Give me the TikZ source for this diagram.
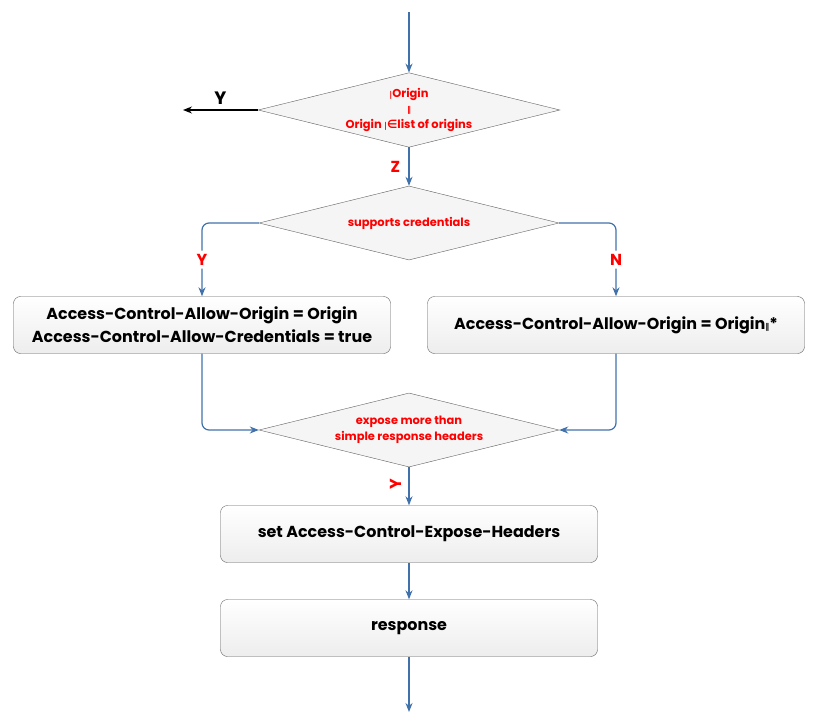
\documentclass[tikz,border=0pt]{standalone}
\usepackage{fontspec}
\setmainfont{Poppins}
\newfontfamily\symfont{DejaVu Sans}
\usetikzlibrary{shapes.geometric,arrows.meta}
\definecolor{flowblue}{RGB}{65,113,170}
\definecolor{labred}{RGB}{255,0,0}
\newcommand{\thinbar}{{\symfont\fontsize{8}{8}\selectfont|}}
\newcommand{\dblbar}{{\symfont\fontsize{8}{8}\selectfont ‖}}
\begin{document}
\begin{tikzpicture}[x=1bp, y=-1bp,
  box/.style={draw=gray!75!black, rounded corners=7bp, minimum width=377bp,
               minimum height=57bp, top color=white, bottom color=gray!14,
               font=\fontsize{16}{23}\selectfont\bfseries, align=center},
  dec/.style={diamond, draw=gray!75!black, fill=gray!8, inner sep=0pt,
               shape aspect=4.05, minimum width=300bp, minimum height=74bp,
               font=\fontsize{11.5}{16}\selectfont\bfseries, text=labred, align=center},
  arr/.style={-{Stealth[length=9bp, width=7bp]}, line width=1.2bp, draw=flowblue},
  lab/.style={font=\fontsize{16}{16}\selectfont\bfseries, text=labred}
]
  \useasboundingbox (0,0) rectangle (817,725);

  \coordinate (start) at (409,12);
  \node[dec] (origin)  at (409,110) {\thinbar Origin\\[-1bp]\dblbar\\[0bp]Origin \thinbar{\symfont∈}list of origins};
  \coordinate (away) at (183,110);
  \node[dec] (cred)    at (409,223) {supports credentials};
  \node[box] (allowc)  at (202,325) {Access-Control-Allow-Origin = Origin\\Access-Control-Allow-Credentials = true};
  \node[box] (allowo)  at (616,325) {Access-Control-Allow-Origin = Origin\dblbar*};
  \node[dec] (expose)  at (409,430) {expose more than\\simple response headers};
  \node[box] (headers) at (409,534) {set Access-Control-Expose-Headers};
  \node[box] (resp)    at (409,628) {response};
  \coordinate (finish) at (409,712);

  \draw[arr] (start) -- (origin);
  \draw[-{Stealth[length=9bp, width=7bp]}, line width=1.2bp] (origin.west) -- (away)
    node[pos=0.5, above=2bp, font=\fontsize{18}{18}\selectfont\bfseries] {Y};
  \draw[arr] (origin) -- (cred) node[midway, left=5bp, lab] {Z};
  \draw[arr, rounded corners=7bp] (cred.west) -| (allowc.north)
    node[pos=0.75, fill=white, lab] {Y};
  \draw[arr, rounded corners=7bp] (cred.east) -| (allowo.north)
    node[pos=0.75, fill=white, lab] {N};
  \draw[arr, rounded corners=7bp] (allowc.south) |- (expose.west);
  \draw[arr, rounded corners=7bp] (allowo.south) |- (expose.east);
  \draw[arr] (expose) -- (headers)
    node[pos=0.45, anchor=south, lab, rotate=90, yshift=4bp] {Y};
  \draw[arr] (headers) -- (resp);
  \draw[arr] (resp) -- (finish);
\end{tikzpicture}
\end{document}
